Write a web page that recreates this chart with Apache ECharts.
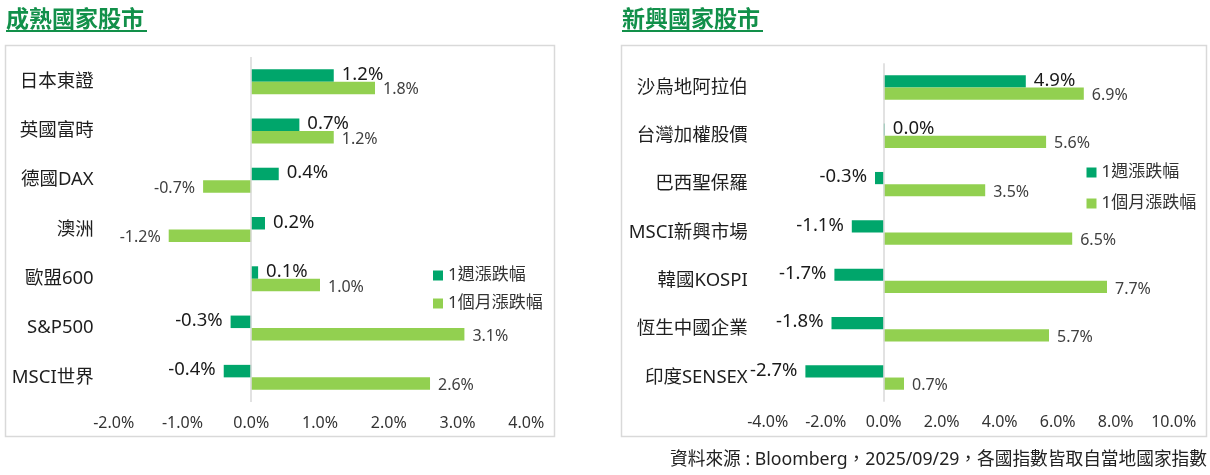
<!DOCTYPE html>
<html>
<head>
<meta charset="utf-8">
<script src="https://cdn.jsdelivr.net/npm/echarts@6/dist/echarts.min.js"></script>
<style>
  html, body { margin: 0; padding: 0; background: #fff; }
  #main { width: 1210px; height: 475px; }
</style>
</head>
<body>
<div id="main"></div>
<script>
// 成熟國家股市
const matureCats = ['日本東證', '英國富時', '德國DAX', '澳洲', '歐盟600', 'S&P500', 'MSCI世界'];
const matureWeek = [1.2, 0.7, 0.4, 0.2, 0.1, -0.3, -0.4];
const matureMonth = [1.8, 1.2, -0.7, -1.2, 1.0, 3.1, 2.6];
const matureTicks = [-2, -1, 0, 1, 2, 3, 4];

// 新興國家股市
const emergingCats = ['沙烏地阿拉伯', '台灣加權股價', '巴西聖保羅', 'MSCI新興市場', '韓國KOSPI', '恆生中國企業', '印度SENSEX'];
const emergingWeek = [4.9, 0.04, -0.3, -1.1, -1.7, -1.8, -2.7];
const emergingMonth = [6.9, 5.6, 3.5, 6.5, 7.7, 5.7, 0.7];
const emergingTicks = [-4, -2, 0, 2, 4, 6, 8, 10];

const seriesNames = ['1週漲跌幅', '1個月漲跌幅'];
const titles = ['成熟國家股市', '新興國家股市'];
const footnote = '資料來源 : Bloomberg，2025/09/29，各國指數皆取自當地國家指數';

const DARK = '#00a66b';
const LIGHT = '#92d050';
const TITLE_GREEN = '#12904a';
const FONT = '"Noto Sans", "Noto Sans CJK TC", sans-serif';
const CJK = '"Noto Sans CJK TC", sans-serif';

const pct = v => v.toFixed(1) + '%';

// 每筆資料依正負決定標籤在左或右
function toItems(values) {
  return values.map(v => ({
    value: v,
    label: { position: v < 0 ? 'left' : 'right' }
  }));
}

function xAxisFor(ticks, gridIndex) {
  return {
    type: 'value',
    gridIndex: gridIndex,
    min: ticks[0],
    max: ticks[ticks.length - 1],
    interval: ticks[1] - ticks[0],
    axisLine: { show: false },
    axisTick: { show: false },
    splitLine: { show: false },
    axisLabel: { formatter: pct, fontSize: 16, color: '#333', margin: 13, fontFamily: FONT }
  };
}

function yAxisFor(cats, gridIndex) {
  return {
    type: 'category',
    gridIndex: gridIndex,
    data: cats,
    inverse: true,
    axisLine: { show: false, onZero: false },
    axisTick: { show: false },
    axisLabel: { fontSize: 18.5, color: '#1e1e1e', margin: 20, fontFamily: FONT }
  };
}

function barSeries(name, values, idx, color, barWidth, strong) {
  return {
    name: name,
    type: 'bar',
    xAxisIndex: idx,
    yAxisIndex: idx,
    data: toItems(values),
    barWidth: barWidth,
    barGap: '0%',
    itemStyle: { color: color },
    label: {
      show: true,
      formatter: p => pct(p.value),
      distance: 8,
      fontFamily: FONT,
      fontSize: strong ? 18.5 : 16,
      color: strong ? '#1a1a1a' : '#404040',
      offset: strong ? [0, -1] : [0, 2]
    }
  };
}

// 0% 基準線
const zeroLine = {
  silent: true,
  symbol: ['none', 'none'],
  label: { show: false },
  lineStyle: { color: '#d9d9d9', type: 'solid', width: 1.5 },
  data: [{ xAxis: 0 }]
};

const chart = echarts.init(document.getElementById('main'));

const s0 = barSeries(seriesNames[0], matureWeek, 0, DARK, 12.5, true);
s0.markLine = zeroLine;
const s2 = barSeries(seriesNames[0], emergingWeek, 1, DARK, 12.2, true);
s2.markLine = zeroLine;

const legendBase = {
  orient: 'vertical',
  icon: 'rect',
  itemWidth: 10,
  itemHeight: 10,
  data: seriesNames,
  textStyle: { fontSize: 17, color: '#333', fontFamily: FONT }
};

chart.setOption({
  animation: false,
  grid: [
    { left: 113.7, top: 57, width: 412.6, height: 345 },
    { left: 767.7, top: 63.3, width: 406, height: 338.4 }
  ],
  xAxis: [xAxisFor(matureTicks, 0), xAxisFor(emergingTicks, 1)],
  yAxis: [yAxisFor(matureCats, 0), yAxisFor(emergingCats, 1)],
  legend: [
    Object.assign({}, legendBase, { left: 428, top: 262, itemGap: 11 }),
    Object.assign({}, legendBase, { left: 1081.5, top: 159, itemGap: 14 })
  ],
  series: [
    s0,
    barSeries(seriesNames[1], matureMonth, 0, LIGHT, 12.5, false),
    s2,
    barSeries(seriesNames[1], emergingMonth, 1, LIGHT, 12.2, false)
  ],
  graphic: [
    { type: 'rect', z: -1, shape: { x: 5.5, y: 45.5, width: 549, height: 391 },
      style: { fill: 'none', stroke: '#d9d9d9', lineWidth: 1.5 } },
    { type: 'rect', z: -1, shape: { x: 621.5, y: 45.5, width: 585, height: 391 },
      style: { fill: 'none', stroke: '#d9d9d9', lineWidth: 1.5 } },
    { type: 'text', x: 6, y: 18,
      style: { text: titles[0], font: 'bold 23px ' + CJK, fill: TITLE_GREEN, textVerticalAlign: 'middle' } },
    { type: 'line', shape: { x1: 6, y1: 31, x2: 147, y2: 31 },
      style: { stroke: TITLE_GREEN, lineWidth: 2 } },
    { type: 'text', x: 622, y: 18,
      style: { text: titles[1], font: 'bold 23px ' + CJK, fill: TITLE_GREEN, textVerticalAlign: 'middle' } },
    { type: 'line', shape: { x1: 622, y1: 31, x2: 763, y2: 31 },
      style: { stroke: TITLE_GREEN, lineWidth: 2 } },
    { type: 'text', x: 1207, y: 460,
      style: { text: footnote, font: '17.7px ' + FONT, fill: '#222', textAlign: 'right', textVerticalAlign: 'middle' } }
  ]
});
</script>
</body>
</html>
